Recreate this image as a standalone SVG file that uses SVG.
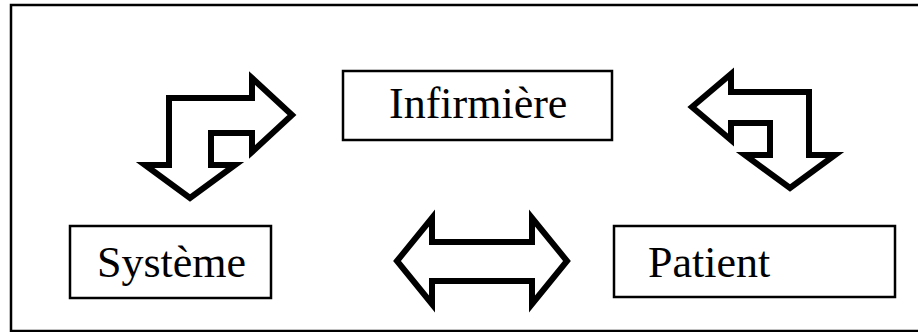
<svg xmlns="http://www.w3.org/2000/svg" width="918" height="332" viewBox="0 0 918 332">
  <style>
    .frame { fill: #fff; stroke: #000; stroke-width: 2.5; }
    .box { fill: #fff; stroke: #000; stroke-width: 2.5; }
    .label { font-family: "Liberation Serif", "Times New Roman", serif; font-size: 44px; fill: #000; }
    .arrow { fill: #fff; stroke: #000; stroke-width: 6; stroke-linejoin: miter; stroke-miterlimit: 10; }
  </style>

  <rect class="frame" x="11" y="5" width="910" height="326"/>

  <g id="infirmiere">
    <rect class="box" x="343" y="71" width="269" height="69"/>
    <text class="label" x="389" y="118">Infirmière</text>
  </g>

  <g id="systeme">
    <rect class="box" x="70" y="226" width="201" height="72"/>
    <text class="label" x="97" y="277">Système</text>
  </g>

  <g id="patient">
    <rect class="box" x="614" y="226" width="281" height="71"/>
    <text class="label" x="648" y="277">Patient</text>
  </g>

  <g id="connectors">
    <!-- bent two-way arrow: Système <-> Infirmière -->
    <path class="arrow" d="M292,115 L252,78 L252,98 L169,98 L169,165 L145,165 L190,198 L235,165 L211,165 L211,133 L252,133 L252,152 Z"/>
    <!-- bent two-way arrow: Infirmière <-> Patient -->
    <path class="arrow" d="M692,107 L731,74 L731,92 L809,92 L809,155 L835,155 L790,188 L745,155 L770,155 L770,123 L731,123 L731,140 Z"/>
    <!-- straight two-way arrow: Système <-> Patient -->
    <path class="arrow" d="M397,261 L432,218 L432,242 L532,242 L532,218 L567,261 L532,304 L532,281 L432,281 L432,304 Z"/>
  </g>
</svg>
